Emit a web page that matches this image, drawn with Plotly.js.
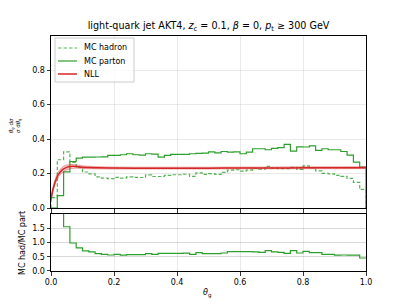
<!DOCTYPE html>
<html>
<head>
<meta charset="utf-8">
<script src="https://cdn.plot.ly/plotly-3.0.1.min.js"></script>
<style>html,body{margin:0;padding:0;background:#fff;}#plot{width:407px;height:305px;}</style>
</head>
<body>
<div id="plot"></div>
<script>
// ---- data ----
const binWidth = 0.02;
const nBins = 50;
const mcParton = [0.0, 0.072, 0.21, 0.27, 0.29, 0.295, 0.295, 0.296, 0.297, 0.305,
  0.305, 0.309, 0.315, 0.309, 0.307, 0.315, 0.313, 0.295, 0.305, 0.311,
  0.311, 0.311, 0.315, 0.317, 0.319, 0.326, 0.32, 0.328, 0.324, 0.326,
  0.315, 0.324, 0.344, 0.344, 0.338, 0.346, 0.35, 0.369, 0.33, 0.355,
  0.354, 0.361, 0.334, 0.344, 0.338, 0.338, 0.328, 0.307, 0.266, 0.237];
const mcHadron = [0.06, 0.28, 0.326, 0.265, 0.235, 0.209, 0.198, 0.181, 0.174, 0.171,
  0.178, 0.173, 0.181, 0.178, 0.177, 0.192, 0.183, 0.183, 0.189, 0.193,
  0.193, 0.196, 0.184, 0.204, 0.195, 0.199, 0.195, 0.207, 0.220, 0.222,
  0.214, 0.220, 0.230, 0.225, 0.242, 0.232, 0.229, 0.229, 0.236, 0.224,
  0.244, 0.233, 0.215, 0.201, 0.198, 0.189, 0.184, 0.172, 0.149, 0.108];
const nllX = [0, 0.004, 0.008, 0.012, 0.016, 0.02, 0.025, 0.03, 0.035, 0.04, 0.05, 0.06, 0.07, 0.08, 0.09, 0.1, 0.12, 0.15, 0.2, 0.3, 0.4, 0.5, 0.6, 0.7, 0.8, 0.9, 1.0];
const nllCentral = [0.05, 0.09, 0.12, 0.145, 0.165, 0.183, 0.198, 0.21, 0.22, 0.227, 0.236, 0.241, 0.242, 0.241, 0.239, 0.237, 0.235, 0.233, 0.232, 0.231, 0.231, 0.231, 0.232, 0.232, 0.233, 0.233, 0.234];
const nllUpper = [0.06, 0.105, 0.135, 0.16, 0.18, 0.198, 0.214, 0.226, 0.236, 0.243, 0.25, 0.253, 0.253, 0.251, 0.248, 0.245, 0.242, 0.24, 0.238, 0.237, 0.237, 0.237, 0.238, 0.238, 0.239, 0.239, 0.240];
const nllLower = [0.04, 0.075, 0.105, 0.13, 0.15, 0.168, 0.182, 0.194, 0.204, 0.211, 0.221, 0.227, 0.23, 0.231, 0.23, 0.229, 0.228, 0.227, 0.226, 0.226, 0.226, 0.226, 0.227, 0.227, 0.228, 0.228, 0.229];
const seriesNames = ['MC hadron', 'MC parton', 'NLL'];
const xTicks = [0, 0.2, 0.4, 0.6, 0.8, 1.0];
const xTickLabels = ['0.0', '0.2', '0.4', '0.6', '0.8', '1.0'];
const yTicksMain = [0, 0.2, 0.4, 0.6, 0.8];
const yTickLabelsMain = ['0.0', '0.2', '0.4', '0.6', '0.8'];
const yTicksRatio = [0, 0.5, 1.0, 1.5];
const yTickLabelsRatio = ['0.0', '0.5', '1.0', '1.5'];

// ---- build ----
const edges = [];
for (let i = 0; i <= nBins; i++) edges.push(+(i * binWidth).toFixed(4));

function stepXY(vals, close) {
  const x = [], y = [];
  if (close) { x.push(edges[0]); y.push(0); }
  for (let i = 0; i < vals.length; i++) { x.push(edges[i]); y.push(vals[i]); }
  x.push(edges[vals.length]); y.push(vals[vals.length - 1]);
  if (close) { x.push(edges[vals.length]); y.push(0); }
  return {x, y};
}
const ratio = mcHadron.map((h, i) => mcParton[i] > 0 ? h / mcParton[i] : null);

const green = '#2ca02c';
const greenDash = 'rgba(44,160,44,0.8)';
const red = '#d62728';
const dashPat = '3.5px,2px';
const sH = stepXY(mcHadron, true), sP = stepXY(mcParton, true), sR = stepXY(ratio, false);

const traces = [
  {x: sH.x, y: sH.y, mode: 'lines', line: {shape: 'hv', color: greenDash, width: 1.2, dash: dashPat}, name: seriesNames[0], xaxis: 'x', yaxis: 'y'},
  {x: sP.x, y: sP.y, mode: 'lines', line: {shape: 'hv', color: green, width: 1.2}, name: seriesNames[1], xaxis: 'x', yaxis: 'y'},
  {x: nllX, y: nllLower, mode: 'lines', line: {color: 'rgba(214,39,40,0.45)', width: 0.8, shape: 'spline'}, hoverinfo: 'skip', xaxis: 'x', yaxis: 'y'},
  {x: nllX, y: nllUpper, mode: 'lines', line: {color: 'rgba(214,39,40,0.45)', width: 0.8, shape: 'spline'}, fill: 'tonexty', fillcolor: 'rgba(214,39,40,0.25)', hoverinfo: 'skip', xaxis: 'x', yaxis: 'y'},
  {x: nllX, y: nllCentral, mode: 'lines', line: {color: red, width: 1.5, shape: 'spline'}, name: seriesNames[2], xaxis: 'x', yaxis: 'y'},
  {x: sR.x, y: sR.y, mode: 'lines', line: {shape: 'hv', color: green, width: 1.2}, xaxis: 'x2', yaxis: 'y2', connectgaps: false}
];

const tickFont = {family: 'DejaVu Sans', size: 8, color: '#000'};
const axCommon = {showline: true, mirror: true, linecolor: '#000', linewidth: 1, ticks: 'outside', ticklen: 3.5, tickwidth: 0.8, tickcolor: '#000', zeroline: false, tickfont: tickFont, showgrid: true, gridcolor: 'rgba(200,200,200,0.5)', gridwidth: 0.8, griddash: 'solid'};

// pixel -> paper helpers (plot area: x 51..366, y 36..271)
const px = v => (v - 51) / 315;
const py = v => (271 - v) / 235;

// custom legend (box, sample lines, labels)
const legRows = [48, 61, 74];
const legStyles = [{color: greenDash, width: 1.2, dash: dashPat}, {color: green, width: 1.2}, {color: red, width: 1.5}];
const shapes = [{type: 'rect', xref: 'paper', yref: 'paper', x0: px(55), x1: px(134), y0: py(38), y1: py(82), line: {color: '#cccccc', width: 1}, fillcolor: 'rgba(255,255,255,0.8)', layer: 'above'}];
const annotations = [];
legRows.forEach((r, i) => {
  shapes.push({type: 'line', xref: 'paper', yref: 'paper', x0: px(58), x1: px(77), y0: py(r), y1: py(r), line: legStyles[i], layer: 'above'});
  annotations.push({text: seriesNames[i], xref: 'paper', yref: 'paper', x: px(82), y: py(r), xanchor: 'left', yanchor: 'middle', showarrow: false, font: {family: 'DejaVu Sans', size: 8, color: '#000'}});
});
annotations.push(
  {text: '<i>θ</i><sub>g</sub> d<i>σ</i><br><i>σ</i> d<i>θ</i><sub>g</sub>', xref: 'paper', yref: 'paper', x: px(15), y: py(126), xanchor: 'center', yanchor: 'middle', textangle: -90, showarrow: false, font: {family: 'DejaVu Sans', size: 5.5, color: '#000'}},
  {text: 'MC had/MC part', xref: 'paper', yref: 'paper', x: px(22), y: py(243), xanchor: 'center', yanchor: 'middle', textangle: -90, showarrow: false, font: {family: 'DejaVu Sans', size: 8, color: '#000'}},
  {text: '<i>θ</i><sub>g</sub>', xref: 'paper', yref: 'paper', x: px(207), y: py(293), xanchor: 'center', yanchor: 'middle', showarrow: false, font: {family: 'DejaVu Sans', size: 8, color: '#000'}}
);

const layout = {
  width: 407, height: 305,
  margin: {l: 51, r: 41, t: 36, b: 34},
  paper_bgcolor: '#fff', plot_bgcolor: '#fff',
  font: {family: 'DejaVu Sans', size: 8, color: '#000'},
  title: {text: 'light-quark jet AKT4, <i>z</i><sub>c</sub> = 0.1, <i>β</i> = 0, <i>p</i><sub>t</sub> ≥ 300 GeV', font: {family: 'DejaVu Sans', size: 9.6, color: '#000'}, x: 0.5, xref: 'paper', xanchor: 'center', y: 1 - 26 / 305, yref: 'container', yanchor: 'middle'},
  xaxis: Object.assign({}, axCommon, {domain: [0, 1], range: [0, 1], anchor: 'y', tickvals: xTicks, ticktext: xTickLabels, showticklabels: false}),
  yaxis: Object.assign({}, axCommon, {domain: [0.268, 1], range: [0, 0.998], anchor: 'x', tickvals: yTicksMain, ticktext: yTickLabelsMain}),
  xaxis2: Object.assign({}, axCommon, {domain: [0, 1], range: [0, 1], anchor: 'y2', tickvals: xTicks, ticktext: xTickLabels}),
  yaxis2: Object.assign({}, axCommon, {domain: [0, 0.2426], range: [0, 2], anchor: 'x2', tickvals: yTicksRatio, ticktext: yTickLabelsRatio, gridcolor: 'rgba(176,176,176,0.6)'}),
  showlegend: false,
  shapes: shapes,
  annotations: annotations
};

Plotly.newPlot('plot', traces, layout, {staticPlot: true, displayModeBar: false});
</script>
</body>
</html>
